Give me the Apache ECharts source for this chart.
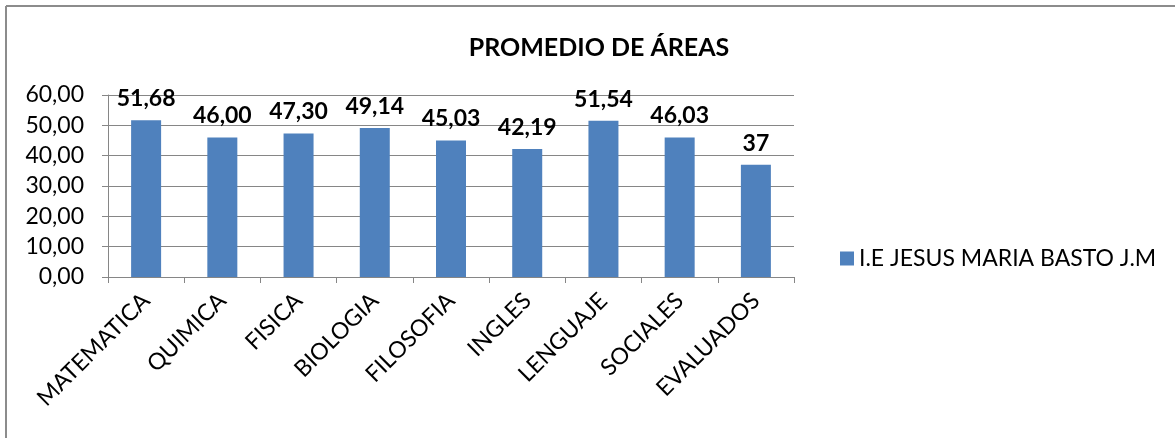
<!DOCTYPE html>
<html>
<head>
<meta charset="utf-8">
<script src="https://cdn.jsdelivr.net/npm/echarts@6/dist/echarts.min.js"></script>
<style>
  html, body { margin: 0; padding: 0; background: #fff; }
  #chart { width: 1175px; height: 438px; }
</style>
</head>
<body>
<div id="chart"></div>
<script>
// datos
var areas = ['MATEMATICA', 'QUIMICA', 'FISICA', 'BIOLOGIA', 'FILOSOFIA', 'INGLES', 'LENGUAJE', 'SOCIALES', 'EVALUADOS']
var promedios = [51.68, 46.00, 47.30, 49.14, 45.03, 42.19, 51.54, 46.03, 37]
var etiquetas = ['51,68', '46,00', '47,30', '49,14', '45,03', '42,19', '51,54', '46,03', '37']
var serieNombre = 'I.E JESUS MARIA BASTO J.M'

var fontFam = 'Lato, "Open Sans", sans-serif'
var chart = echarts.init(document.getElementById('chart'))

chart.setOption({
  animation: false,
  title: {
    text: 'PROMEDIO DE ÁREAS',
    left: 594,
    textAlign: 'center',
    top: 30,
    textStyle: {
      fontFamily: fontFam,
      fontSize: 25,
      fontWeight: 'bold',
      color: '#000'
    }
  },
  legend: {
    data: [serieNombre],
    left: 835,
    top: 242,
    itemWidth: 14,
    itemHeight: 14,
    itemGap: 8,
    icon: 'rect',
    textStyle: {
      fontFamily: fontFam,
      fontSize: 23,
      color: '#000'
    }
  },
  grid: {
    left: 108,
    top: 95,
    width: 686,
    height: 182,
    containLabel: false
  },
  graphic: [
    {
      type: 'line',
      shape: { x1: 6, y1: 6, x2: 1175, y2: 6 },
      style: { stroke: '#8c8c8c', lineWidth: 2 }
    },
    {
      type: 'line',
      shape: { x1: 6, y1: 6, x2: 6, y2: 438 },
      style: { stroke: '#8c8c8c', lineWidth: 2 }
    }
  ],
  xAxis: {
    type: 'category',
    data: areas,
    axisLine: { lineStyle: { color: '#868686', width: 1 } },
    axisTick: { show: true, length: 6, lineStyle: { color: '#868686' } },
    axisLabel: {
      rotate: 45,
      interval: 0,
      margin: 20,
      fontFamily: fontFam,
      fontSize: 23,
      color: '#000'
    }
  },
  yAxis: {
    type: 'value',
    min: 0,
    max: 60,
    interval: 10,
    axisLine: { show: true, lineStyle: { color: '#868686' } },
    axisTick: { show: true, length: 6, inside: false, lineStyle: { color: '#868686' } },
    splitLine: { lineStyle: { color: '#868686', width: 1 } },
    axisLabel: {
      margin: 24,
      fontFamily: fontFam,
      fontSize: 23,
      color: '#000',
      formatter: function (v) { return v.toFixed(2).replace('.', ',') }
    }
  },
  series: [
    {
      name: serieNombre,
      type: 'bar',
      data: promedios,
      barWidth: 30,
      itemStyle: { color: '#4f81bd' },
      label: {
        show: true,
        position: 'top',
        distance: 10,
        fontFamily: fontFam,
        fontSize: 23,
        fontWeight: 'bold',
        color: '#000',
        formatter: function (p) { return etiquetas[p.dataIndex] }
      }
    }
  ]
})
</script>
</body>
</html>
